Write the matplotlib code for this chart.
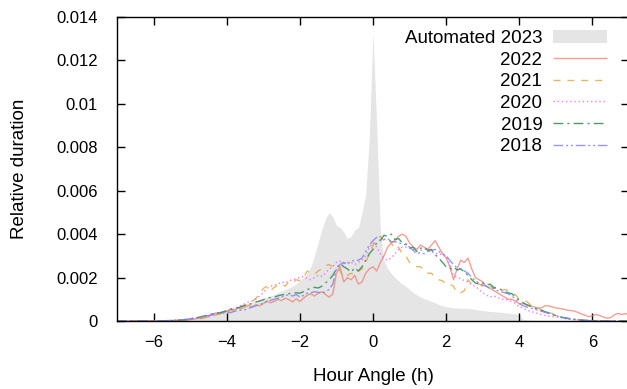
import numpy as np
import matplotlib
matplotlib.use("Agg")
import matplotlib.pyplot as plt
from matplotlib.ticker import FuncFormatter

plt.rcParams['font.family'] = ['Liberation Sans', 'DejaVu Sans']

# bin centres (hour angle, h)
hour_angle = np.linspace(-7.0, 7.0, 141)

# values in units of 1e-4 (relative duration)
auto_2023 = [
    0, 0, 0, 0, 0, 0, 0, 0, 0, 0,
    0, 0, 0, 0, 0.1, 0.1, 0.2, 0.3, 0.5, 0.8,
    1.1, 1.5, 1.9, 2.3, 2.7, 3.1, 3.6, 4.0, 4.4, 4.8,
    5.1, 5.6, 6.0, 6.5, 7.0, 7.6, 8.2, 8.8, 9.3, 9.8,
    10.5, 11.0, 11.6, 12.2, 13.0, 13.8, 14.5, 15.2, 16.0, 17.0,
    18.5, 20.0, 22.0, 25.0, 30.0, 36.0, 42.0, 47.0, 50.0, 48.0,
    44.0, 43.0, 41.0, 38.0, 39.0, 42.0, 43.0, 50.0, 58.0, 85.0,
    133.0, 90.0, 42.0, 28.0, 24.0, 22.0, 20.0, 18.5, 17.0, 16.0,
    14.5, 13.0, 12.0, 11.0, 10.3, 9.7, 9.0, 8.4, 7.6, 7.0,
    6.6, 6.3, 6.0, 6.0, 5.9, 5.8, 5.8, 5.6, 5.3, 5.0,
    4.8, 4.6, 4.4, 4.3, 4.1, 4.0, 3.8, 3.7, 3.5, 3.3,
    3.0, 0.8, 0.5, 0.4, 0.3, 0.3, 0.2, 0.2, 0.2, 0.1,
    0.1, 0.1, 0.1, 0.1, 0.1, 0.1, 0.1, 0.1, 0, 0,
    0, 0, 0, 0, 0, 0, 0, 0, 0, 0, 0,
]

y2022 = [
    0, 0, 0, 0, 0, 0, 0, 0, 0, 0,
    0, 0, 0, 0, 0.1, 0.1, 0.2, 0.2, 0.3, 0.4,
    0.7, 0.9, 1.3, 1.1, 1.6, 2.0, 3.0, 3.7, 3.2, 4.0,
    4.5, 5.5, 4.8, 6.2, 5.6, 6.5, 7.2, 6.4, 7.5, 7.0,
    8.0, 9.2, 8.4, 9.0, 10.0, 9.4, 10.5, 9.8, 8.8, 10.2,
    9.0, 10.5, 11.8, 12.6, 11.5, 12.8, 13.5, 12.2, 11.0, 12.4,
    22, 25, 18, 20, 19, 21, 17, 18, 22, 24,
    25, 23, 27, 30, 34, 36, 37, 39, 40, 39,
    36, 34, 33, 35, 34, 33, 35, 37, 34, 31,
    29, 25, 19, 24, 28, 27, 29, 24, 20, 19,
    18, 16, 15, 14, 13, 12, 11, 10, 10, 9,
    8, 8, 7.5, 7, 6.5, 6, 6, 7, 7, 6.5,
    6, 5.8, 5.5, 5, 4.8, 4.6, 4, 3.2, 2.6, 2.0,
    2.4, 3.0, 2.5, 1.8, 1.3, 1.6, 2.8, 3.5, 3.0, 3.4, 2.8,
]

y2021 = [
    0, 0, 0, 0, 0, 0, 0, 0, 0, 0,
    0, 0, 0, 0.1, 0.1, 0.2, 0.2, 0.3, 0.4, 0.5,
    0.7, 0.9, 1.1, 1.4, 1.6, 1.9, 2.3, 2.8, 3.2, 3.6,
    4.2, 4.8, 5.4, 6.0, 6.8, 7.4, 8.0, 9.0, 10.5, 12.5,
    15, 16, 14, 15.5, 16.5, 17, 16, 18, 17.5, 19,
    18.5, 20, 23, 22, 21.5, 23, 24, 25.5, 26, 25,
    25, 23, 20, 21, 22, 21, 23, 24, 27, 31,
    35, 38, 39, 37, 38, 36, 33, 34, 31, 30,
    27, 26, 25, 25, 23, 22, 22, 20, 19, 18.5,
    17, 17, 16, 13, 13, 14, 19, 17, 18, 17,
    16, 16.5, 16, 15, 15.5, 14, 14.5, 14, 13, 12,
    10, 9.5, 9, 7.5, 6.5, 6, 5, 4.5, 4, 3.5,
    2.5, 2, 1.6, 1.3, 1, 0.8, 0.6, 0.5, 0.4, 0.3,
    0.2, 0.2, 0.1, 0.1, 0.1, 0, 0, 0, 0, 0, 0,
]

y2020 = [
    0, 0, 0, 0, 0, 0, 0, 0, 0, 0,
    0, 0, 0.1, 0.1, 0.2, 0.2, 0.3, 0.4, 0.5, 0.6,
    0.8, 1.0, 1.2, 1.5, 1.7, 2.0, 2.5, 2.9, 3.4, 3.8,
    4.4, 5.0, 5.6, 6.4, 7.2, 8.0, 8.8, 9.2, 10.0, 11.5,
    13, 15, 16, 16.5, 17, 18, 17.5, 18.5, 19, 19.5,
    20, 20.5, 19.5, 19, 20, 21, 20.5, 22, 24, 25,
    27, 27.5, 26.5, 27, 27, 26, 27, 28, 30, 34,
    36, 34, 31, 29, 28, 29, 31, 33, 34, 34,
    34, 33, 32, 32.5, 33, 33, 32, 31, 31, 30.5,
    30, 26, 21, 20, 19.5, 18.5, 18, 16.5, 16, 14.5,
    13, 12, 11, 11.5, 11, 10, 10, 9.5, 9, 8,
    6.5, 6, 5, 4.5, 4, 3.5, 3, 2.5, 2.2, 2,
    1.8, 1.5, 1.2, 1, 0.8, 0.6, 0.5, 0.4, 0.3, 0.2,
    0.1, 0.1, 0.1, 0, 0, 0, 0, 0, 0, 0, 0,
]

y2019 = [
    0, 0, 0, 0, 0, 0, 0, 0, 0, 0,
    0, 0, 0, 0.1, 0.1, 0.2, 0.3, 0.4, 0.5, 0.7,
    1.0, 1.3, 1.6, 2.0, 2.4, 2.8, 3.3, 3.7, 3.8, 4.2,
    4.8, 5.5, 5.8, 6.0, 6.6, 7.2, 7.5, 8.2, 8.8, 9.2,
    9.8, 10.5, 10.8, 11.0, 11.6, 12.0, 12.2, 12.6, 12.8, 13.0,
    12.8, 13.5, 14.5, 15, 15.5, 15.2, 16, 17.5, 19, 21,
    24, 26.5, 25, 24, 22.5, 24.5, 23, 25, 28, 31,
    33, 36, 37, 39.5, 39, 40, 37.5, 38, 36, 35.5,
    33.5, 34, 32, 33.5, 34, 32.5, 33, 30.5, 29, 27,
    25, 24, 25, 23.5, 24, 22.5, 21, 19, 17.5, 17,
    17.5, 16.5, 17, 15.5, 15, 14.5, 13.5, 13, 12.5, 11,
    9.5, 8.5, 7.5, 6.8, 6, 5.5, 5, 4.3, 3.8, 3,
    2.4, 2, 1.6, 1.3, 1, 0.8, 0.6, 0.4, 0.3, 0.2,
    0.1, 0.1, 0.1, 0, 0, 0, 0, 0, 0, 0, 0,
]

y2018 = [
    0, 0, 0, 0, 0, 0, 0, 0, 0, 0,
    0, 0, 0.1, 0.1, 0.2, 0.3, 0.4, 0.5, 0.6, 0.8,
    1.0, 1.3, 1.6, 2.0, 2.2, 2.5, 3.0, 3.5, 3.7, 3.6,
    4.0, 3.8, 4.4, 4.8, 5.0, 5.2, 5.8, 6.5, 7.0, 7.5,
    8.2, 9.0, 9.5, 10.0, 10.5, 11.0, 11.8, 12.0, 11.5, 12.2,
    11.0, 11.8, 12.8, 13.0, 13.5, 13.2, 12.8, 13.5, 14.5, 17,
    24, 26, 27, 26, 27.5, 28, 28, 29, 32, 35,
    37, 38.5, 37, 37.5, 38, 36.5, 36.5, 36, 35.5, 35,
    34, 32.5, 31, 31.5, 31, 32, 32.5, 33, 32, 31,
    30, 28, 26, 24.5, 24, 23, 22, 20, 18.5, 17.5,
    16.5, 16, 15, 15, 14, 13.5, 13, 12.5, 11.5, 10,
    8, 7, 6.5, 6, 5.5, 5, 4.5, 4, 3.5, 3,
    2.5, 2, 1.6, 1.2, 0.9, 0.7, 0.5, 0.4, 0.3, 0.2,
    0.1, 0.1, 0, 0, 0, 0, 0, 0, 0, 0, 0,
]

SCALE = 1e-4
series = [
    ("2022", y2022, "#f08070", (0, ()), 0.75),
    ("2021", y2021, "#e0a030", (0, (5, 5)), 0.75),
    ("2020", y2020, "#ee66ee", (0, (1, 2)), 0.85),
    ("2019", y2019, "#2e8b57", (0, (7, 3, 1.5, 3)), 0.85),
    ("2018", y2018, "#7f7ff0", (0, (7, 2, 1.5, 2, 1.5, 2)), 0.8),
]

W, H = 627, 389
fig = plt.figure(figsize=(W / 100, H / 100), dpi=100)
ax = fig.add_axes([117 / W, (H - 321) / H, (629 - 117) / W, (321 - 17) / H])

ax.fill_between(hour_angle, 0, np.array(auto_2023) * SCALE, color="#e5e5e5",
                lw=0, label="Automated 2023", zorder=1)
for name, vals, col, ls, a in series:
    ax.plot(hour_angle, np.array(vals) * SCALE, color=col, ls=ls, lw=1.0,
            alpha=a, label=name, zorder=2)

ax.set_xlim(-7, 7)
ax.set_ylim(0, 0.014)
ax.set_xticks([-6, -4, -2, 0, 2, 4, 6])
ax.set_yticks([0, 0.002, 0.004, 0.006, 0.008, 0.01, 0.012, 0.014])
ax.yaxis.set_major_formatter(FuncFormatter(lambda v, p: "%g" % round(v, 4)))
ax.tick_params(direction="in", length=6, width=1, top=True, right=True,
               labelsize=12, colors="black")
ax.tick_params(axis="y", pad=14)
ax.tick_params(axis="x", pad=10)
for s in ax.spines.values():
    s.set_linewidth(1)
    s.set_color("black")

ax.set_xlabel("Hour Angle (h)", fontsize=13.5, labelpad=13)
ax.set_ylabel("Relative duration", fontsize=13.5, labelpad=20)

leg = ax.legend(loc="upper right", markerfirst=False, frameon=False,
                fontsize=13.5, handlelength=2.9, handletextpad=0.55,
                labelspacing=0.24, borderaxespad=0.0, borderpad=0.0,
                bbox_to_anchor=(1 - 22 / 512, 1 - 13 / 304))

fig.savefig("out.png", dpi=100)
